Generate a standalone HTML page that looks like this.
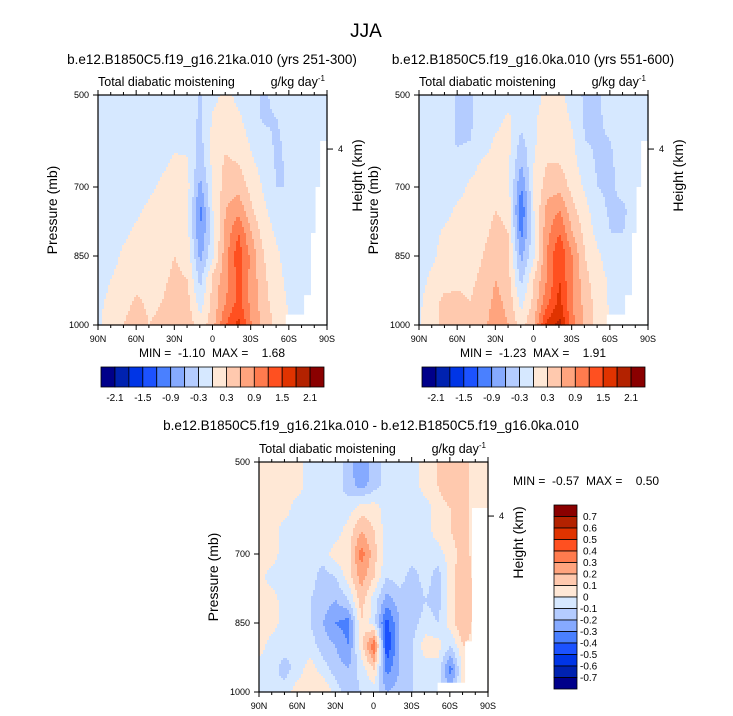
<!DOCTYPE html>
<html><head><meta charset="utf-8">
<style>
html,body{margin:0;padding:0;background:#fff;}
svg{display:block;font-family:"Liberation Sans",Arial,sans-serif;}
</style></head>
<body>
<svg id="fig" width="733" height="716" viewBox="0 0 733 716" xmlns="http://www.w3.org/2000/svg">
<text x="366" y="37" font-size="19" text-anchor="middle">JJA</text>
<g id="root"></g>
</svg>
<script>
// ---- data ----
const lats = ["90N","80N","70N","60N","50N","40N","30N","20N","10N","0","10S","20S","30S","40S","50S","60S","70S","80S","90S"];
const levels = [500,550,600,650,700,750,800,850,900,950,1000];
const xTickLabels = ["90N","60N","30N","0","30S","60S","90S"];
const yTickLabels = [500,700,850,1000];
const colors = ["#00008a","#0022b0","#0035e6","#1c52ff","#4a80ff","#86aaff","#b4ccff","#d6e8ff","#ffe8d6","#ffc9ae","#ffa47e","#ff7b4e","#ff5020","#e03300","#b32200","#8a0000"];
const bounds1 = [-2.1,-1.8,-1.5,-1.2,-0.9,-0.6,-0.3,0,0.3,0.6,0.9,1.2,1.5,1.8,2.1];
const cbLabels1 = ["-2.1","-1.5","-0.9","-0.3","0.3","0.9","1.5","2.1"];
const bounds3 = [-0.7,-0.6,-0.5,-0.4,-0.3,-0.2,-0.1,0,0.1,0.2,0.3,0.4,0.5,0.6,0.7];
const cbLabels3 = ["0.7","0.6","0.5","0.4","0.3","0.2","0.1","0","-0.1","-0.2","-0.3","-0.4","-0.5","-0.6","-0.7"];
const field1 = [
[-.15,-.15,-.15,-.15,-.15,-.15,-.15,-.15,-.35,-.1,.1,-.1,-.15,-.35,-.2,-.15,-.15,-.15,-.15],
[-.15,-.15,-.15,-.15,-.15,-.15,-.15,-.15,-.35,.05,.15,.05,-.15,-.35,-.3,-.15,-.15,-.15,-.15],
[-.15,-.15,-.15,-.15,-.15,-.15,-.05,-.1,-.4,.1,.25,.15,-.05,-.2,-.35,-.2,-.15,-.15,-.15],
[-.15,-.15,-.15,-.15,-.15,-.05,.05,.05,-.5,.1,.35,.3,.05,-.1,-.35,-.25,-.15,-.15,-.15],
[-.15,-.15,-.15,-.15,-.05,.05,.1,.1,-.7,0,.45,.5,.2,-.05,-.3,-.3,-.15,-.15,-.15],
[-.15,-.15,-.15,-.05,.05,.1,.15,.1,-1.0,0,.6,.8,.35,.05,-.15,-.3,-.15,-.15,-.15],
[-.15,-.15,-.05,.05,.1,.15,.2,.1,-.9,-.1,.7,1.2,.6,.15,-.05,-.2,-.15,-.15,-.15],
[-.15,-.1,.05,.1,.1,.2,.3,.2,-.7,-.05,.8,1.4,.8,.3,.05,-.15,-.15,-.15,-.15],
[-.1,0,.1,.2,.15,.25,.35,.3,-.4,.4,.8,1.3,.8,.35,.1,-.1,-.15,-.15,-.15],
[-.05,.05,.2,.35,.25,.3,.4,.4,-.15,.4,.9,1.3,.8,.4,.15,-.05,-.15,-.15,-.15],
[-.05,.15,.3,.45,.3,.35,.5,.5,.1,.5,1.2,1.6,.9,.5,.2,0,-.15,-.15,-.15]];
const field2 = [
[-.15,-.15,-.15,-.35,-.35,-.15,-.15,-.15,-.2,-.15,.1,.1,-.15,-.35,-.35,-.15,-.15,-.15,-.15],
[-.15,-.15,-.15,-.35,-.35,-.15,-.1,.05,-.15,-.05,.15,.15,-.05,-.35,-.35,-.2,-.15,-.15,-.15],
[-.15,-.15,-.15,-.35,-.3,-.15,.05,.1,-.4,-.05,.2,.2,.05,-.3,-.35,-.3,-.15,-.15,-.15],
[-.15,-.15,-.15,-.15,-.1,.05,.1,.05,-.6,0,.3,.3,.1,-.15,-.35,-.35,-.15,-.15,-.15],
[-.15,-.15,-.15,-.1,.05,.1,.15,.1,-.9,0,.45,.5,.2,-.05,-.3,-.35,-.2,-.15,-.15],
[-.15,-.15,-.1,.05,.1,.15,.3,.2,-1.2,0,.7,.9,.4,.1,-.2,-.35,-.35,-.15,-.15],
[-.15,-.1,.05,.1,.15,.2,.4,.3,-1.0,-.05,.8,1.2,.6,.2,-.1,-.3,-.3,-.15,-.15],
[-.15,-.05,.1,.2,.2,.3,.6,.4,-.7,-.05,.9,1.5,.9,.3,.05,-.15,-.15,-.15,-.15],
[-.1,.05,.15,.25,.25,.35,.6,.4,-.4,.3,.9,1.5,.9,.4,.1,-.05,-.15,-.15,-.15],
[-.05,.15,.4,.35,.3,.4,.7,.5,-.1,.4,1.1,1.6,.9,.5,.15,-.05,-.15,-.15,-.15],
[-.05,.2,.4,.5,.35,.5,.8,.6,.15,.6,1.6,1.9,1.0,.5,.2,0,-.15,-.15,-.15]];
const field3 = [
[.05,.05,.05,.05,-.05,-.05,-.05,-.15,-.3,-.15,-.05,-.05,-.05,.05,.1,.2,.15,.05,.05],
[.05,.05,.05,.05,-.05,-.05,-.05,-.15,-.25,-.15,-.05,-.05,-.05,.05,.1,.2,.15,.05,.05],
[.05,.05,.05,-.05,-.05,-.05,-.1,-.05,.05,.05,-.05,-.05,-.05,-.05,.05,.1,.15,.05,.05],
[.05,.05,-.05,-.05,-.1,-.05,-.05,.05,.2,.1,-.05,-.05,-.05,-.05,.05,.1,.15,.05,.05],
[.05,.05,-.05,-.05,-.05,-.05,.05,.05,.35,.15,-.05,-.05,-.05,-.05,-.05,.05,.15,.05,.05],
[.05,-.05,-.05,-.05,-.05,-.15,-.1,.05,.25,.1,-.1,-.05,-.15,-.05,-.15,.05,.2,.05,.05],
[.05,.05,-.05,-.05,-.1,-.15,-.2,-.1,.15,-.05,-.25,-.15,-.2,-.1,-.15,.05,.2,.1,.05],
[.05,.05,-.05,-.05,-.1,-.2,-.3,-.35,.1,-.05,-.45,-.2,-.15,-.05,-.1,.05,.2,.05,.05],
[.05,-.05,-.05,-.1,-.05,-.15,-.2,-.3,.05,.4,-.5,-.2,-.1,.05,.05,-.1,.1,.05,.05],
[-.05,-.05,-.15,-.05,.05,-.05,-.15,-.2,-.05,.1,-.35,-.2,-.1,-.05,-.05,-.35,.05,.05,.05],
[-.05,-.1,-.05,.05,.05,.1,-.05,-.15,-.1,-.05,-.2,-.15,-.1,-.05,-.05,-.2,.05,.05,.05]];

// ---- drawing ----
const NS="http://www.w3.org/2000/svg";
const root=document.getElementById('root');
function el(tag,attrs,parent,txt){const e=document.createElementNS(NS,tag);for(const k in attrs)e.setAttribute(k,attrs[k]);if(txt!==undefined)e.textContent=txt;(parent||root).appendChild(e);return e;}
function colorFor(v,b){let i=0;while(i<b.length&&v>=b[i])i++;return colors[i];}
function sample(f,fx,fy){
  const cx=fx*(f[0].length-1), cy=fy*(f.length-1);
  const i0=Math.min(Math.floor(cx),f[0].length-2), j0=Math.min(Math.floor(cy),f.length-2);
  const tx=cx-i0, ty=cy-j0;
  return f[j0][i0]*(1-tx)*(1-ty)+f[j0][i0+1]*tx*(1-ty)+f[j0+1][i0]*(1-tx)*ty+f[j0+1][i0+1]*tx*ty;
}
function panel(opt){
  const {x0,y0,w,h,field,bounds,title,ttlX,ttlY,name}=opt;
  const g=el('g',{});
  
  
  const xs=f=>x0+f*w;
  const yp=p=>y0+(p-500)/500*h;
  const yf=f=>y0+f*h;
  const step=2;
  const nx=Math.ceil(w/step), ny=Math.ceil(h/step);
  const cg=el('g',{},g);
  
  
  for(let j=0;j<ny;j++){
    let runStart=0,runCol=null;
    for(let i=0;i<=nx;i++){
      let c=null;
      if(i<nx){c=colorFor(sample(field,(i+0.5)/nx,(j+0.5)/ny),bounds);}
      if(c!==runCol){
        if(runCol!==null){
          const r=el('rect',{x:(x0+runStart*step).toFixed(1),y:(y0+j*step).toFixed(1),width:Math.min((i-runStart)*step,w-runStart*step)+0.6,height:Math.min(step,h-j*step)+0.6,fill:runCol},cg);
          
          
        }
        runStart=i;runCol=c;
      }
    }
  }
  const m=opt.missing;
  const mp=el('polygon',{points:m.map(p=>xs(p[0])+','+yf(p[1])).join(' '),fill:'#fff'},g);
  
  
  const fr=el('rect',{x:x0,y:y0,width:w,height:h,fill:'none',stroke:'#000','stroke-width':1.2},g);
  
  
  for(let k=0;k<=18;k++){
    const X=xs(k/18), major=k%3===0, L=major?5:3;
    el('line',{x1:X,y1:y0+h,x2:X,y2:y0+h+L,stroke:'#000','stroke-width':1},g);
    el('line',{x1:X,y1:y0,x2:X,y2:y0-L,stroke:'#000','stroke-width':1},g);
  }
  xTickLabels.forEach((t,k)=>{
    const tl=el('text',{x:xs(k/6),y:y0+h+17,'font-size':9,'text-anchor':'middle'},g,t);
    
    
  });
  yTickLabels.forEach(p=>{
    el('line',{x1:x0,y1:yp(p),x2:x0-5,y2:yp(p),stroke:'#000','stroke-width':1},g);
    const tl=el('text',{x:x0-9,y:yp(p)+3,'font-size':9,'text-anchor':'end'},g,p);
    
    
  });
  const y4=y0+h*0.235;
  el('line',{x1:x0+w,y1:y4,x2:x0+w+6,y2:y4,stroke:'#000','stroke-width':1},g);
  const t4=el('text',{x:x0+w+11,y:y4+3,'font-size':9},g,'4');
  
  
  const yt=el('text',{transform:`translate(${x0-41},${y0+h/2}) rotate(-90)`,'font-size':14,'text-anchor':'middle'},g,'Pressure (mb)');
  
  
  const ht=el('text',{transform:`translate(${x0+w+35},${y0+h*0.35}) rotate(-90)`,'font-size':14,'text-anchor':'middle'},g,'Height (km)');
  
  
  const lt=el('text',{x:x0,y:y0-9,'font-size':12.5},g,'Total diabatic moistening');
  
  
  const ut=el('text',{x:x0+w-2,y:y0-9,'font-size':12.5,'text-anchor':'end'},g);
  
  
  ut.innerHTML='g/kg day<tspan font-size="8" dy="-5">-1</tspan>';
  const tt=el('text',{x:ttlX,y:ttlY,'font-size':13.5,'text-anchor':'middle'},g,title);
  
  
  const mm=el('text',{x:opt.mmX,y:opt.mmY,'font-size':12,'text-anchor':opt.mmAnchor,style:'white-space:pre'},g,opt.mm);
  
  
}
const miss12=[[0.82,1],[0.82,0.955],[0.9,0.955],[0.9,0.87],[0.93,0.87],[0.93,0.6],[0.95,0.6],[0.95,0.4],[0.97,0.4],[0.97,0.2],[1,0.2],[1,1]];
const miss3=[[0.78,1],[0.78,0.96],[0.9,0.96],[0.9,0.78],[0.93,0.78],[0.93,0.2],[1,0.2],[1,1]];
panel({name:'panel-21ka',x0:98,y0:95,w:229,h:230,field:field1,bounds:bounds1,title:'b.e12.B1850C5.f19_g16.21ka.010 (yrs 251-300)',ttlX:212,ttlY:64,missing:miss12,mm:'MIN =  -1.10  MAX =    1.68',mmX:212,mmY:357,mmAnchor:'middle'});
panel({name:'panel-0ka',x0:419,y0:95,w:229,h:230,field:field2,bounds:bounds1,title:'b.e12.B1850C5.f19_g16.0ka.010 (yrs 551-600)',ttlX:533,ttlY:64,missing:miss12,mm:'MIN =  -1.23  MAX =    1.91',mmX:533,mmY:357,mmAnchor:'middle'});
panel({name:'panel-difference',x0:259,y0:462,w:229,h:230,field:field3,bounds:bounds3,title:'b.e12.B1850C5.f19_g16.21ka.010 - b.e12.B1850C5.f19_g16.0ka.010',ttlX:371,ttlY:430,missing:miss3,mm:'MIN =  -0.57  MAX =    0.50',mmX:513,mmY:485,mmAnchor:'start'});

function hbar(x0,name){
  const g=el('g',{});
  
  
  const bw=223/16;
  colors.forEach((c,i)=>{
    const r=el('rect',{x:x0+i*bw,y:367,width:bw,height:20,fill:c,stroke:'#000','stroke-width':0.8},g);
    
    
  });
  cbLabels1.forEach((t,k)=>{
    const tl=el('text',{x:x0+(1+2*k)*bw,y:401,'font-size':10,'text-anchor':'middle'},g,t);
    
    
  });
}
hbar(101,'colorbar-21ka');
hbar(422,'colorbar-0ka');
(function(){
  const g=el('g',{});
  
  
  const bh=(689-505)/16;
  colors.slice().reverse().forEach((c,i)=>{
    const r=el('rect',{x:554,y:505+i*bh,width:23,height:bh,fill:c,stroke:'#000','stroke-width':0.8},g);
    
    
  });
  cbLabels3.forEach((t,k)=>{
    const tl=el('text',{x:t.startsWith('-')?580:583,y:505+(k+1)*bh+3.5,'font-size':10},g,t);
    
    
  });
})();
</script>
</body></html>
